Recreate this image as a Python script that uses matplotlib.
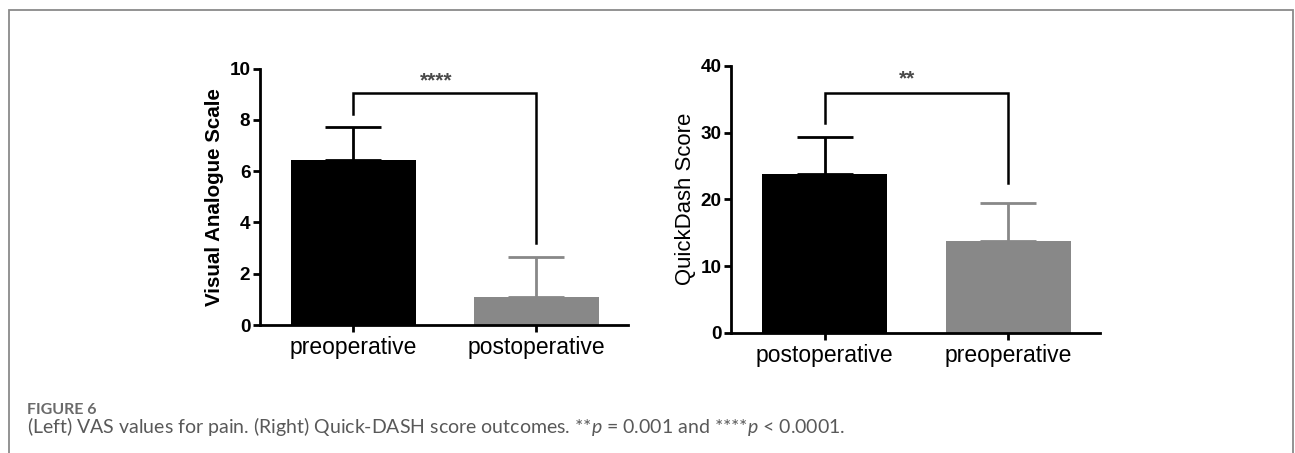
import matplotlib
matplotlib.use("Agg")
import matplotlib.pyplot as plt
from matplotlib.patches import Rectangle

# ---------------- data ----------------
vas_categories = ["preoperative", "postoperative"]
vas_means = [6.42, 1.10]
vas_sd = [1.30, 1.56]

qd_categories = ["postoperative", "preoperative"]
qd_means = [23.8, 13.7]
qd_sd = [5.6, 5.7]

vas_sig = "****"
qd_sig = "**"
vas_yticks = [0, 2, 4, 6, 8, 10]
qd_yticks = [0, 10, 20, 30, 40]

caption_title = "FIGURE 6"
caption_text = ("(Left) VAS values for pain. (Right) Quick-DASH score outcomes. "
                "**$p$ = 0.001 and ****$p$ < 0.0001.")

# ---------------- style ----------------
plt.rcParams['font.family'] = ['Liberation Sans', 'DejaVu Sans']
plt.rcParams['mathtext.fontset'] = 'custom'
plt.rcParams['mathtext.rm'] = 'Lato'
plt.rcParams['mathtext.it'] = 'Lato:italic'

W, H = 1295, 453
fig = plt.figure(figsize=(W / 100, H / 100), dpi=100)
fig.patch.set_facecolor('white')

bar_colors = ['#000000', '#888888']
AX_LW = 2.0


def px_rect(x0, x1, ytop, ybot):
    return [x0 / W, (H - ybot) / H, (x1 - x0) / W, (ybot - ytop) / H]


def panel(rect, cats, means, sds, yticks, ylim, sig, bracket, star_y):
    ax = fig.add_axes(rect)
    x = list(range(len(cats)))
    ax.bar(x, means, width=0.68, color=bar_colors, edgecolor=bar_colors,
           linewidth=0, zorder=2)
    for xi, m, s, c in zip(x, means, sds, bar_colors):
        ax.errorbar([xi], [m], yerr=[[0], [s]], fmt='none', ecolor=c,
                    elinewidth=2.0, capsize=20, capthick=2.0, zorder=3)
    ax.set_xlim(-0.51, 1.5)
    ax.set_ylim(*ylim)
    ax.set_xticks(x)
    ax.set_xticklabels(cats, fontsize=16.5)
    ax.set_yticks(yticks)
    ax.set_yticklabels([str(t) for t in yticks], fontsize=13.6,
                       fontweight='bold')
    for s in ['top', 'right']:
        ax.spines[s].set_visible(False)
    for s in ['left', 'bottom']:
        ax.spines[s].set_linewidth(AX_LW)
    ax.tick_params(axis='y', length=5, width=AX_LW, pad=2)
    ax.tick_params(axis='x', length=5, width=AX_LW, pad=3)
    # significance bracket
    y_left, y_top, y_right = bracket
    ax.plot([0, 0, 1, 1], [y_left, y_top, y_top, y_right], color='black',
            lw=1.8, solid_joinstyle='miter', zorder=4, clip_on=False)
    ax.text(0.45, star_y, sig, ha='center', va='center', fontsize=15,
            fontweight='bold', color='#4a4a4a')
    return ax


ax1 = panel(px_rect(260, 628, 68.5, 325), vas_categories, vas_means, vas_sd,
            vas_yticks, (0, 10), vas_sig, (8.24, 9.03, 3.2), 9.5)
ax2 = panel(px_rect(731, 1100, 66, 332.7), qd_categories, qd_means, qd_sd,
            qd_yticks, (0, 40), qd_sig, (31.4, 36.0, 22.5), 38.0)

fig.text(215 / W, 1 - 197.5 / H, "Visual Analogue Scale", rotation=90,
         ha='center', va='center', fontsize=14.8, fontweight='bold')
fig.text(685 / W, 1 - 199 / H, "QuickDash Score", rotation=90,
         ha='center', va='center', fontsize=15.9)

# caption
fig.text(27 / W, 1 - 410 / H, caption_title, ha='left', va='center',
         fontsize=11.5, fontweight='bold', color='#6a6a6a',
         family=['Lato', 'DejaVu Sans'])
fig.text(27 / W, 1 - 427 / H, caption_text, ha='left', va='center',
         fontsize=14, color='#595959', family=['Lato', 'DejaVu Sans'])

# frame around figure panel
fig.patches.append(Rectangle((9 / W, -0.05), (1293 - 9) / W, 1.05 - 10 / H,
                             transform=fig.transFigure, fill=False,
                             edgecolor='#8a8a8a', linewidth=1.3))

fig.savefig("out.png", dpi=100, facecolor='white')
